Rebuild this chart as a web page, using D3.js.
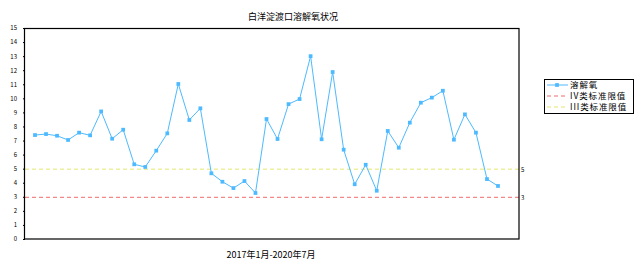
<!DOCTYPE html>
<html>
<head>
<meta charset="utf-8">
<script src="https://cdn.jsdelivr.net/npm/d3@7"></script>
<style>
  body { margin: 0; background: #fff; }
  text { font-family: "Noto Sans CJK SC", "Noto Sans", sans-serif; }
</style>
</head>
<body>
<svg id="chart" width="639" height="265"></svg>
<script>
// 2017-01 .. 2020-07, monthly dissolved oxygen (mg/L)
const months = d3.range(43).map(i => {
  const y = 2017 + Math.floor(i / 12), m = i % 12 + 1;
  return `${y}-${m}`;
});
const doValues = [
  7.39, 7.46, 7.34, 7.04, 7.56, 7.37, 9.07, 7.13, 7.77, 5.31, 5.12, 6.28,
  7.51, 11.02, 8.46, 9.29, 4.67, 4.07, 3.62, 4.12, 3.27, 8.53, 7.11, 9.59,
  9.95, 13.0, 7.09, 11.87, 6.35, 3.89, 5.28, 3.43, 7.68, 6.49, 8.27, 9.69,
  10.05, 10.54, 7.06, 8.86, 7.56, 4.26, 3.77
];
const limits = [
  { name: "IV类标准限值", value: 3, color: "#f26b6b" },
  { name: "III类标准限值", value: 5, color: "#e6e66e" }
];
const yTicks = d3.range(0, 16);

const svg = d3.select("#chart");
const margin = { left: 25, right: 120, top: 28, bottom: 26 };
const width = 639, height = 265;
const lineColor = "#4dbaff";

const x = d3.scalePoint()
  .domain(months)
  .range([margin.left + 10, width - margin.right - 21]);
const y = d3.scaleLinear()
  .domain([0, 15])
  .range([height - margin.bottom, margin.top]);

// title
svg.append("text")
  .attr("x", 293).attr("y", 20)
  .attr("text-anchor", "middle")
  .attr("font-size", 9)
  .text("白洋淀渡口溶解氧状况");

// limit lines
svg.selectAll(".limit")
  .data(limits)
  .enter().append("line")
  .attr("x1", margin.left).attr("x2", width - margin.right)
  .attr("y1", d => y(d.value) + 0.5).attr("y2", d => y(d.value) + 0.5)
  .attr("stroke", d => d.color)
  .attr("stroke-width", 1)
  .attr("stroke-dasharray", "4,3");

// right side labels of limits
svg.selectAll(".limlab")
  .data(limits)
  .enter().append("text")
  .attr("x", width - margin.right + 2)
  .attr("y", d => y(d.value) + 3)
  .attr("font-size", 6)
  .text(d => d.value);

// left axis
const yAxis = svg.append("g")
  .attr("transform", `translate(${margin.left},0)`)
  .call(d3.axisLeft(y).tickValues(yTicks).tickSize(2).tickPadding(6));
yAxis.select(".domain").remove();
yAxis.selectAll("text").attr("font-size", 6).attr("font-family", "DejaVu Sans");

// frame
svg.append("rect")
  .attr("x", margin.left - 0.5).attr("y", margin.top + 0.5)
  .attr("width", width - margin.left - margin.right + 0.5)
  .attr("height", height - margin.top - margin.bottom - 0.5)
  .attr("fill", "none")
  .attr("stroke", "#000")
  .attr("stroke-width", 1.2);

// data line
const line = d3.line()
  .x((d, i) => x(months[i]))
  .y(d => y(d));
svg.append("path")
  .datum(doValues)
  .attr("d", line)
  .attr("fill", "none")
  .attr("stroke", lineColor)
  .attr("stroke-width", 1);

const marker = d3.symbol().type(d3.symbolSquare).size(14);
svg.selectAll(".pt")
  .data(doValues)
  .enter().append("path")
  .attr("transform", (d, i) => `translate(${x(months[i])},${y(d)})`)
  .attr("d", marker)
  .attr("fill", lineColor);

// x label
svg.append("text")
  .attr("x", 271).attr("y", 258)
  .attr("text-anchor", "middle")
  .attr("font-size", 9)
  .text("2017年1月-2020年7月");

// legend
const lg = svg.append("g").attr("transform", "translate(544,79)");
lg.append("rect")
  .attr("x", 0.5).attr("y", 0.5)
  .attr("width", 89).attr("height", 34)
  .attr("fill", "#fff").attr("stroke", "#000").attr("stroke-width", 1);
const items = [{ name: "溶解氧", color: lineColor, dash: null }]
  .concat(limits.map(d => ({ name: d.name, color: d.color, dash: "4,3" })));
items.forEach((d, i) => {
  const yy = 6 + i * 11;
  lg.append("line")
    .attr("x1", 3).attr("x2", 24)
    .attr("y1", yy).attr("y2", yy)
    .attr("stroke", d.color)
    .attr("stroke-dasharray", d.dash);
  if (i === 0) {
    lg.append("path")
      .attr("transform", `translate(13,${yy})`)
      .attr("d", marker)
      .attr("fill", d.color);
  }
  lg.append("text")
    .attr("x", 26).attr("y", yy + 3)
    .attr("font-size", 8.5)
    .attr("letter-spacing", 0.9)
    .text(d.name);
});
</script>
</body>
</html>
